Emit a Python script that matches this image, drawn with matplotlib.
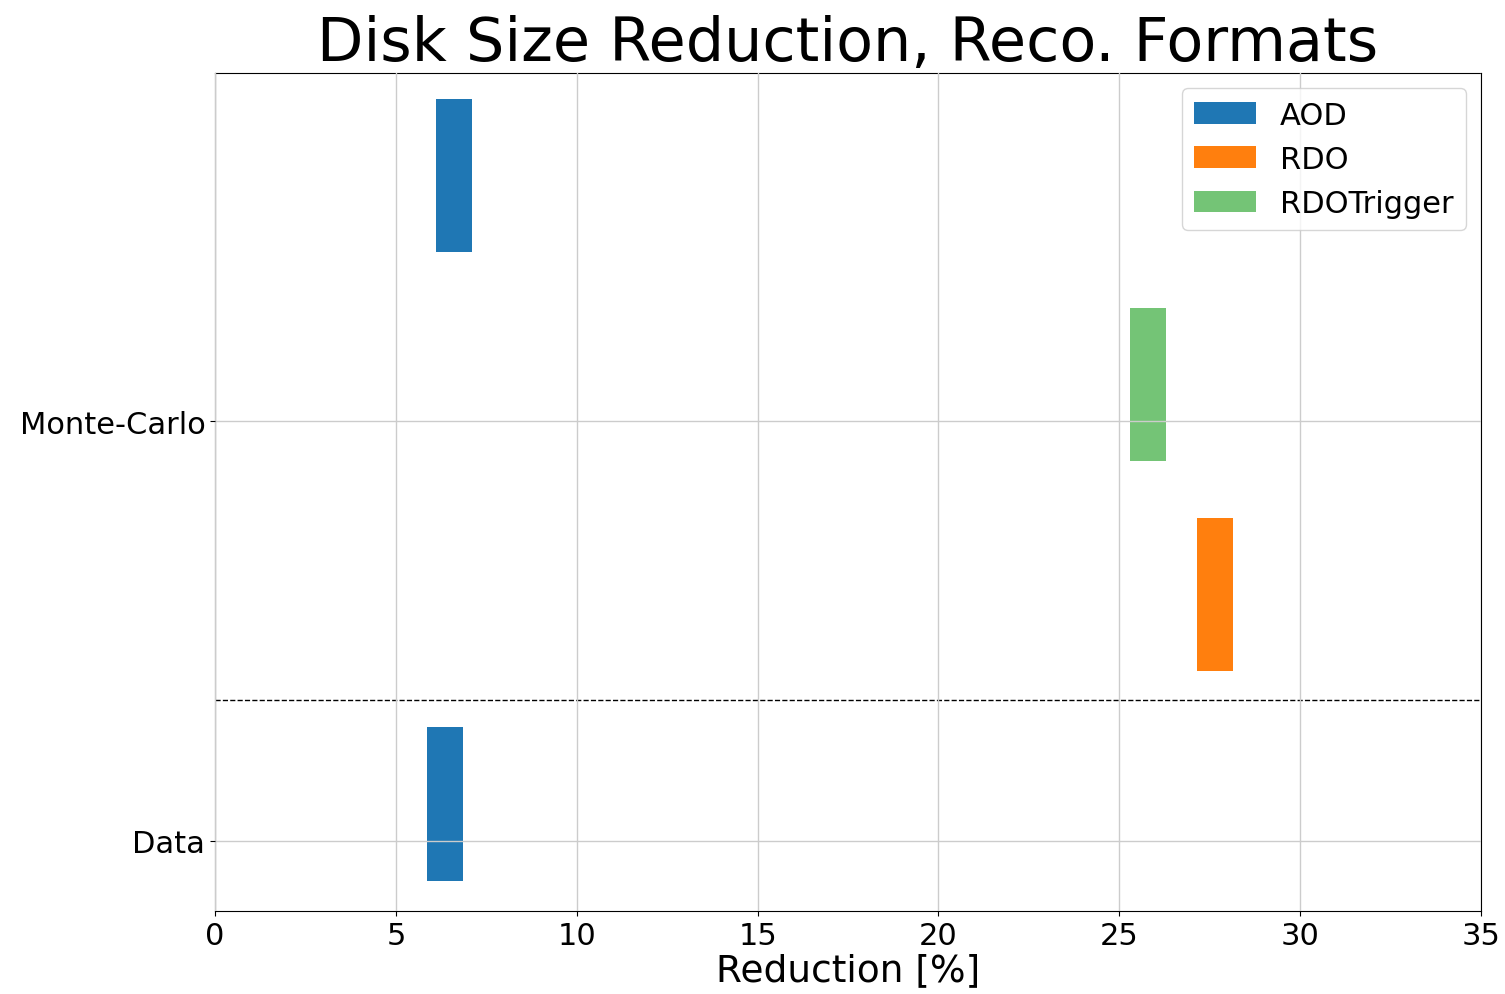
import matplotlib.pyplot as plt

# bar centres (reduction %)
formats = ['AOD', 'RDO', 'RDOTrigger']
colors = ['#1f77b4', '#ff7f0e', '#74c476']
mc_values = [6.6, 27.65, 25.8]
mc_pos = [1.586, 0.588, 1.088]
data_values = [6.35]
data_pos = [0.088]
categories = ['Data', 'Monte-Carlo']
cat_pos = [0, 1]
separator = 0.336
bar_w = 1.0
bar_h = 0.365

fig = plt.figure(figsize=(15.05, 9.95), dpi=100)
ax = fig.add_axes([0.1429, 0.0834, 0.8412, 0.8422])

for i, f in enumerate(formats):
    ax.barh(mc_pos[i], bar_w, left=mc_values[i] - bar_w / 2, height=bar_h,
            color=colors[i], label=f)
ax.barh(data_pos[0], bar_w, left=data_values[0] - bar_w / 2, height=bar_h,
        color=colors[0])

ax.axhline(separator, color='black', ls='--', lw=1)
ax.set_xlim(0, 35)
ax.set_ylim(-0.167, 1.83)
ax.set_yticks(cat_pos)
ax.set_yticklabels(categories)
ax.tick_params(labelsize=22)
ax.grid(True, color='#cccccc', lw=1)
ax.set_axisbelow(False)
ax.set_xlabel('Reduction [%]', fontsize=27, labelpad=2)
ax.set_title('Disk Size Reduction, Reco. Formats', fontsize=43.5, pad=4)
ax.legend(loc='upper right', fontsize=22, handlelength=2.0, borderaxespad=0.5)

fig.savefig('out.png', dpi=100)
